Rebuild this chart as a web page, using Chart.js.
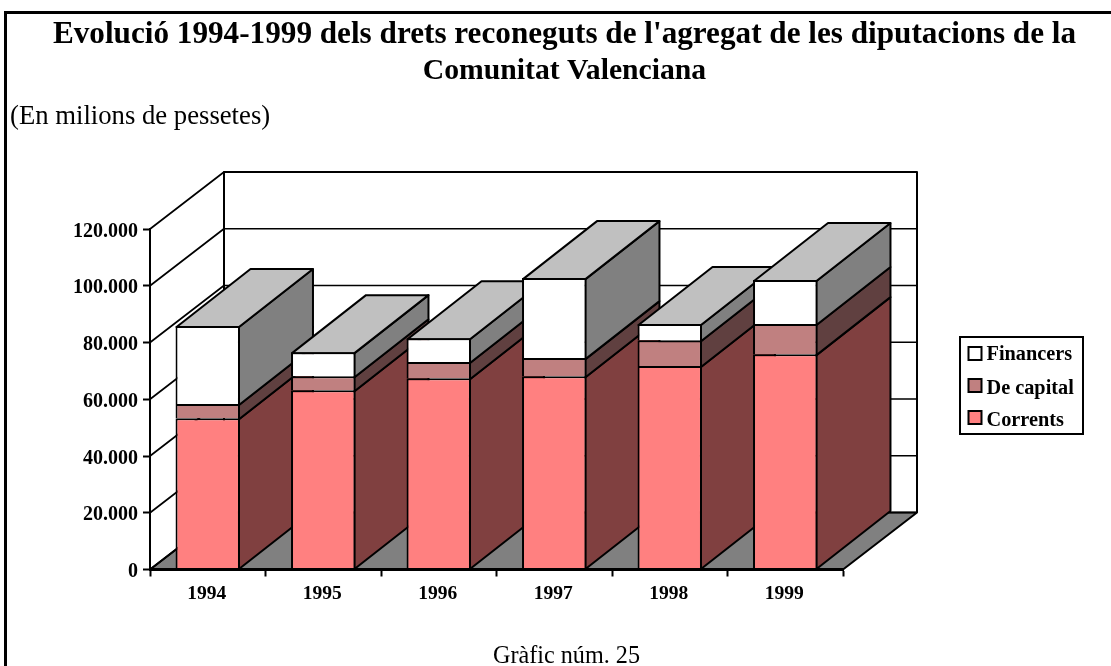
<!DOCTYPE html>
<html><head><meta charset="utf-8">
<style>html,body{margin:0;padding:0;background:#fff;overflow:hidden}canvas{display:block}</style>
<script src="https://cdn.jsdelivr.net/npm/chart.js@4"></script></head>
<body><div style="width:1111px;height:666px"><canvas id="c"></canvas></div>
<script>
const categories = ['1994','1995','1996','1997','1998','1999'];
const corrents  = [53300,63200,67400,68100,71700,75900];
const deCapital = [5000,4900,5700,6400,9100,10600];
const financers = [27500,8500,8400,28200,5700,15500];
const titleLines = ["Evolució 1994-1999 dels drets reconeguts de l'agregat de les diputacions de la","Comunitat Valenciana"];
const unitLabel = '(En milions de pessetes)';
const caption = 'Gràfic núm. 25';
const SERIF = '"Liberation Serif","Times New Roman",serif';
const DX = 74, DY = -57, BAR_DY = -58;
const fmt = v => v === 0 ? '0' : String(v/1000) + '.000';

const shade3d = {
  id:'shade3d',
  beforeDraw(chart){
    const c = chart.ctx; c.save();
    c.fillStyle='#fff'; c.fillRect(0,0,chart.width,chart.height);
    c.strokeStyle='#000'; c.lineWidth=3;
    c.beginPath(); c.moveTo(5.5,666); c.lineTo(5.5,12.5); c.lineTo(1111,12.5); c.stroke();
    c.fillStyle='#000'; c.textAlign='center'; c.textBaseline='alphabetic';
    c.font='bold 31.2px '+SERIF; c.fillText(titleLines[0],564.5,43);
    c.font='bold 29.7px '+SERIF; c.fillText(titleLines[1],564.5,79);
    c.textAlign='left'; c.font='26.7px '+SERIF; c.fillText(unitLabel,10,124);
    c.textAlign='center'; c.font='24.2px '+SERIF; c.fillText(caption,566.5,663);
    c.restore();
  },
  beforeDatasetsDraw(chart){
    const c = chart.ctx, y = chart.scales.y, a = chart.chartArea;
    const L=a.left, R=a.right, B=y.getPixelForValue(0), T=y.getPixelForValue(120000);
    c.save(); c.lineJoin='round'; c.strokeStyle='#000';
    // floor
    c.fillStyle='#808080'; c.lineWidth=2;
    poly(c,[[L,B],[R,B],[R+DX,B+DY],[L+DX,B+DY]]);
    // walls
    c.beginPath(); c.moveTo(L+DX,B+DY); c.lineTo(L+DX,T+DY); c.lineTo(R+DX,T+DY); c.lineTo(R+DX,B+DY); c.stroke();
    c.lineWidth=1.7;
    y.ticks.forEach(t=>{ const p=y.getPixelForValue(t.value);
      c.beginPath(); c.moveTo(L,p); c.lineTo(L+DX,p+DY); c.lineTo(R+DX,p+DY); c.stroke(); });
    // depth faces, painted left to right
    const sideCols=['#804040','#604040','#808080'];
    c.lineWidth=2;
    categories.forEach((_,i)=>{
      let top=null, l=0, r=0;
      [0,1,2].forEach(d=>{
        const el=chart.getDatasetMeta(d).data[i];
        l=el.x-el.width/2+1; r=el.x+el.width/2-1;
        const yt=el.y+1, yb=(d===0? el.base : chart.getDatasetMeta(d-1).data[i].y+1);
        c.fillStyle=sideCols[d];
        poly(c,[[r,yb],[r,yt],[r+DX,yt+BAR_DY],[r+DX,yb+BAR_DY]]);
        top=yt;
      });
      c.fillStyle='#c0c0c0';
      poly(c,[[l,top],[r,top],[r+DX,top+BAR_DY],[l+DX,top+BAR_DY]]);
    });
    c.restore();
  },
  afterDraw(chart){
    const c = chart.ctx; c.save();
    c.fillStyle='#fff'; c.strokeStyle='#000'; c.lineWidth=2;
    c.beginPath(); c.rect(960,337,123,97); c.fill(); c.stroke();
    const boxY=[353.5,385.5,417.5], textY=[360,394,426];
    [2,1,0].forEach((d,k)=>{
      const ds=chart.data.datasets[d];
      c.fillStyle=ds.backgroundColor; c.beginPath(); c.rect(968.5,boxY[k]-6.5,13,13); c.fill(); c.stroke();
      c.fillStyle='#000'; c.font='bold 20.3px '+SERIF; c.textAlign='left'; c.textBaseline='alphabetic';
      c.fillText(ds.label,986.5,textY[k]);
    });
    c.restore();
  }
};
function poly(c,pts){ c.beginPath(); pts.forEach((p,i)=>i?c.lineTo(p[0],p[1]):c.moveTo(p[0],p[1])); c.closePath(); c.fill(); c.stroke(); }

const barStyle = {borderColor:'#000',borderWidth:2,borderSkipped:'bottom',barPercentage:0.558,categoryPercentage:1,stack:'s'};
new Chart(document.getElementById('c'),{
  type:'bar',
  data:{labels:categories,datasets:[
    {label:'Corrents',data:corrents,backgroundColor:'#ff8080',...barStyle},
    {label:'De capital',data:deCapital,backgroundColor:'#c08080',...barStyle},
    {label:'Financers',data:financers,backgroundColor:'#ffffff',...barStyle}
  ]},
  options:{
    responsive:true,maintainAspectRatio:false,animation:false,
    layout:{padding:{top:229,left:0,right:268,bottom:0}},
    plugins:{legend:{display:false},title:{display:false},tooltip:{enabled:false}},
    scales:{
      x:{stacked:true,offset:true,
        afterFit(s){s.height=96.5;},
        grid:{drawOnChartArea:false,drawTicks:true,tickLength:7,tickWidth:2,tickColor:'#000',offset:true},
        border:{display:true,color:'#000',width:3,z:1},
        ticks:{color:'#000',font:{family:SERIF,size:19.5,weight:'bold'},padding:6,maxRotation:0,labelOffset:-1}},
      y:{stacked:true,min:0,max:120000,
        afterFit(s){s.width=150;},
        grid:{drawOnChartArea:false,drawTicks:true,tickLength:7,tickWidth:2,tickColor:'#000'},
        border:{display:true,color:'#000',width:2,z:1},
        ticks:{stepSize:20000,color:'#000',font:{family:SERIF,size:20,weight:'bold'},padding:5,callback:fmt,labelOffset:2.5}}
    }
  },
  plugins:[shade3d]
});
</script></body></html>
